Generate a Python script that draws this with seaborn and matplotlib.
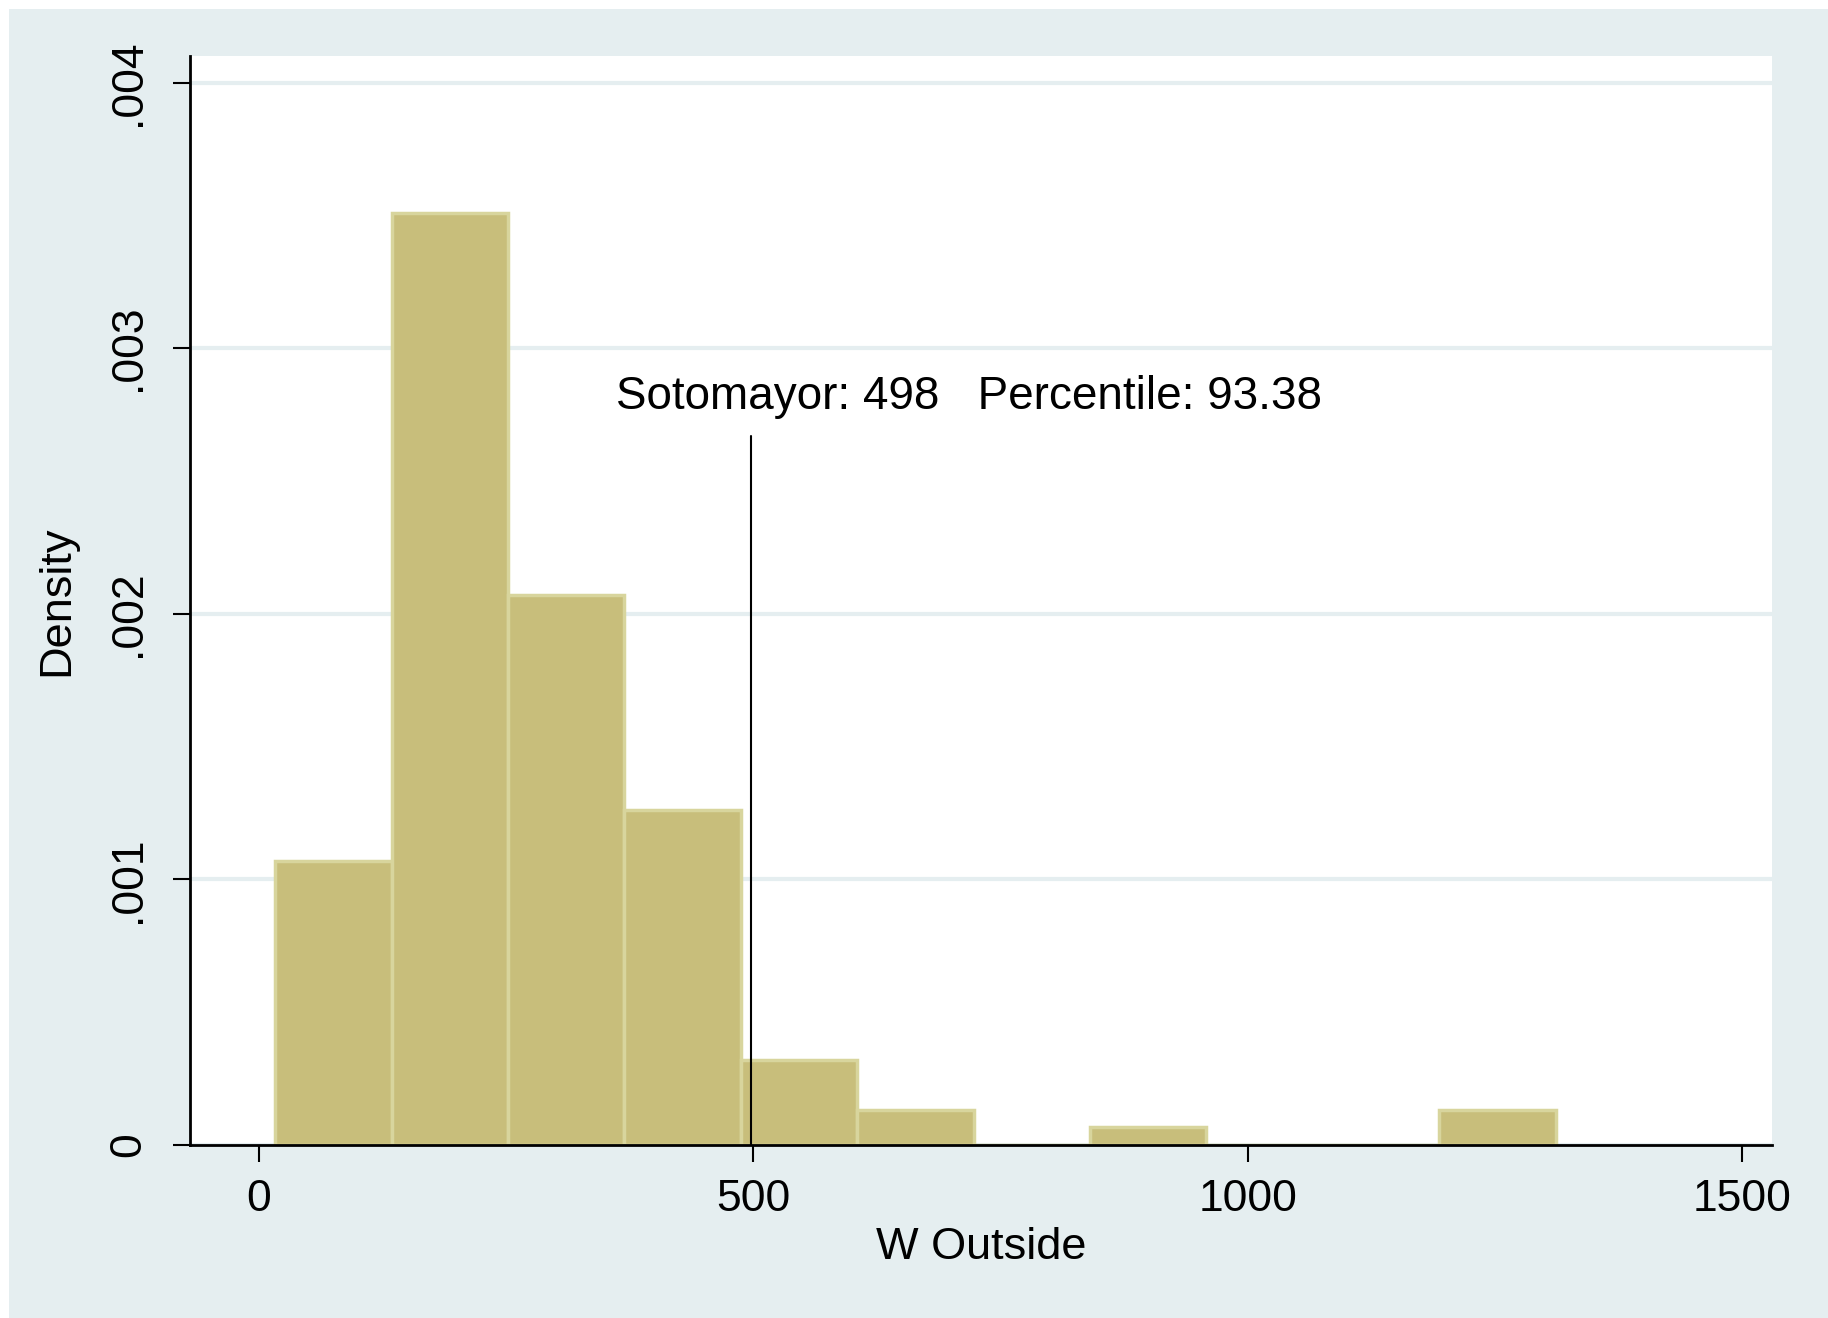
import numpy as np
import pandas as pd
import matplotlib
matplotlib.use("Agg")
import matplotlib.pyplot as plt
import seaborn as sns
from matplotlib.patches import Rectangle

# bin layout (11 equal bins)
bin_start = 16.5
bin_width = 117.7
densities = [0.00107, 0.00351, 0.00207, 0.00126, 0.00032, 0.00013,
             0.0, 0.000068, 0.0, 0.0, 0.00013]

sotomayor = 498
percentile = 93.38
line_top = 0.00267

x_ticks = [0, 500, 1000, 1500]
y_ticks = [0, 0.001, 0.002, 0.003, 0.004]
y_tick_labels = ["0", ".001", ".002", ".003", ".004"]

bar_fill = "#C8BE7B"
bar_edge = "#D8D59D"
region_bg = "#E5EEF0"

edges = bin_start + bin_width * np.arange(len(densities) + 1)
centers = (edges[:-1] + edges[1:]) / 2
df = pd.DataFrame({"w_outside": centers, "density": densities})

sns.set_style("white")
plt.rcParams["font.family"] = ["Liberation Sans", "DejaVu Sans"]
plt.rcParams["text.color"] = "black"
plt.rcParams["axes.labelcolor"] = "black"

fig = plt.figure(figsize=(18.28, 13.18), dpi=100, facecolor="white")
# Stata-like graph region (light bluish grey), small white strip top/left
fig.patches.append(Rectangle((9 / 1828, 0), 1, 1 - 9 / 1318,
                             transform=fig.transFigure, facecolor=region_bg,
                             edgecolor="none", zorder=-10))

ax = fig.add_axes([0.104, 0.1314, 0.9694 - 0.104, 0.9575 - 0.1314])
ax.set_facecolor("white")

sns.histplot(data=df, x="w_outside", weights="density",
             binwidth=bin_width, binrange=(edges[0], edges[-1]),
             color=bar_fill, edgecolor=bar_edge, linewidth=2.5, alpha=1, ax=ax)

# vertical marker and label
ax.plot([sotomayor, sotomayor], [0, line_top], color="black", linewidth=1.5)
ax.text(361, 0.002815, f"Sotomayor: {sotomayor}   Percentile: {percentile:.2f}",
        fontsize=33, ha="left", va="center", color="black")

ax.set_xlim(-69.6, 1530)
ax.set_ylim(0, 0.0041)
ax.set_xticks(x_ticks)
ax.set_xticklabels([str(t) for t in x_ticks])
ax.set_yticks(y_ticks)
ax.set_yticklabels(y_tick_labels, rotation=90, va="center")

ax.set_axisbelow(True)
ax.yaxis.grid(True, color=region_bg, linewidth=3)
ax.xaxis.grid(False)

for side in ["top", "right"]:
    ax.spines[side].set_visible(False)
for side in ["left", "bottom"]:
    ax.spines[side].set_color("black")
    ax.spines[side].set_linewidth(2)

ax.tick_params(axis="both", direction="out", length=12.5, width=1.5,
               labelsize=32, colors="black")
ax.tick_params(axis="x", pad=12, bottom=True)
ax.tick_params(axis="y", pad=17, left=True)

ax.set_xlabel("W Outside", fontsize=32.5, labelpad=5)
ax.set_ylabel("Density", fontsize=32.5, labelpad=22)

fig.savefig("out.png", dpi=100, facecolor=fig.get_facecolor())
